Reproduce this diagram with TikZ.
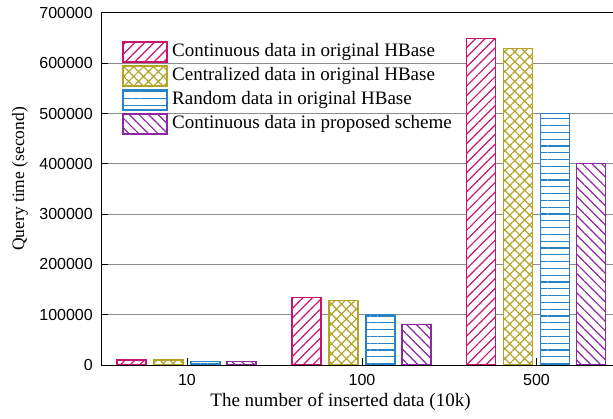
\documentclass[tikz,border=0pt]{standalone}
\usepackage{fontspec}
\setmainfont{Liberation Serif}
\newfontfamily\numfont{Liberation Sans}
\usetikzlibrary{patterns.meta}
\definecolor{cmag}{RGB}{200,20,110}
\definecolor{colive}{RGB}{180,165,40}
\definecolor{cblue}{RGB}{40,130,195}
\definecolor{cpurp}{RGB}{140,40,160}
\tikzset{
  gridline/.style={draw=black!45, line width=1pt},
  axisline/.style={draw=black, line width=1pt},
  ticklab/.style={font=\numfont\fontsize{16}{16}\selectfont, inner sep=0pt},
  labtext/.style={font=\fontsize{19}{19}\selectfont, inner sep=0pt},
  magbar/.style={draw=cmag, line width=1.1pt, preaction={fill=white},
    pattern={Lines[angle=45,distance=6.8pt,line width=1.2pt]}, pattern color=cmag},
  olivebar/.style={draw=colive, line width=1.1pt, preaction={fill=white},
    pattern={Hatch[angle=45,distance=7pt,line width=1.2pt]}, pattern color=colive},
  bluebar/.style={draw=cblue, line width=1.1pt, preaction={fill=white},
    pattern={Lines[angle=0,distance=6.8pt,line width=1.2pt]}, pattern color=cblue},
  purpbar/.style={draw=cpurp, line width=1.1pt, preaction={fill=white},
    pattern={Lines[angle=-45,distance=6.8pt,line width=1.2pt]}, pattern color=cpurp},
}
\begin{document}
\begin{tikzpicture}[x=1pt,y=1pt]
\useasboundingbox (0,0) rectangle (613,418);
\def\U{50.2857}
% grid lines
\foreach \i in {1,...,6} {
  \draw[gridline] (101,{53+\U*\i}) -- (613,{53+\U*\i});
}
% y ticks and labels
\foreach \i/\t in {0/0,1/100000,2/200000,3/300000,4/400000,5/500000,6/600000,7/700000} {
  \draw[axisline] (101,{53+\U*\i}) -- (108,{53+\U*\i});
  \node[ticklab, anchor=east] (yl\i) at (93,{53+\U*\i}) {\t};
}
% bars
\foreach \c/\a/\b/\cc/\d in {187/0.10/0.10/0.07/0.07, 362/1.35/1.28/1.00/0.80, 536.5/6.50/6.30/5.00/4.00} {
  \draw[magbar]   ({\c-70},53) rectangle ({\c-41},{53+\U*\a});
  \draw[olivebar] ({\c-33},53) rectangle ({\c-4},{53+\U*\b});
  \draw[bluebar]  ({\c+4},53) rectangle ({\c+33},{53+\U*\cc});
  \draw[purpbar]  ({\c+40},53) rectangle ({\c+69},{53+\U*\d});
}
% frame
\draw[axisline] (613,405) -- (101,405) -- (101,53) -- (613,53);
% x ticks and labels
\foreach \c/\t/\n in {187/10/a,362/100/b,536.5/500/c} {
  \draw[axisline] (\c,53) -- (\c,60);
  \node[ticklab] (xl\n) at (\c,38) {\t};
}
% axis titles
\node[labtext] (xtitle) at (340.5,16) {The number of inserted data (10k)};
\node[labtext, font=\fontsize{17.5}{17.5}\selectfont, rotate=90] (ytitle) at (20,239) {Query time (second)};
% legend
\draw[magbar]   (123,376) rectangle (167,356);
\draw[olivebar] (123,352) rectangle (167,332);
\draw[bluebar]  (123,328) rectangle (167,308);
\draw[purpbar]  (123,304) rectangle (167,284);
\node[labtext, anchor=west] (l1) at (172,366) {Continuous data in original HBase};
\node[labtext, anchor=west] (l2) at (172,342) {Centralized data in original HBase};
\node[labtext, anchor=west] (l3) at (172,318) {Random data in original HBase};
\node[labtext, anchor=west] (l4) at (172,294) {Continuous data in proposed scheme};
\end{tikzpicture}
\end{document}
